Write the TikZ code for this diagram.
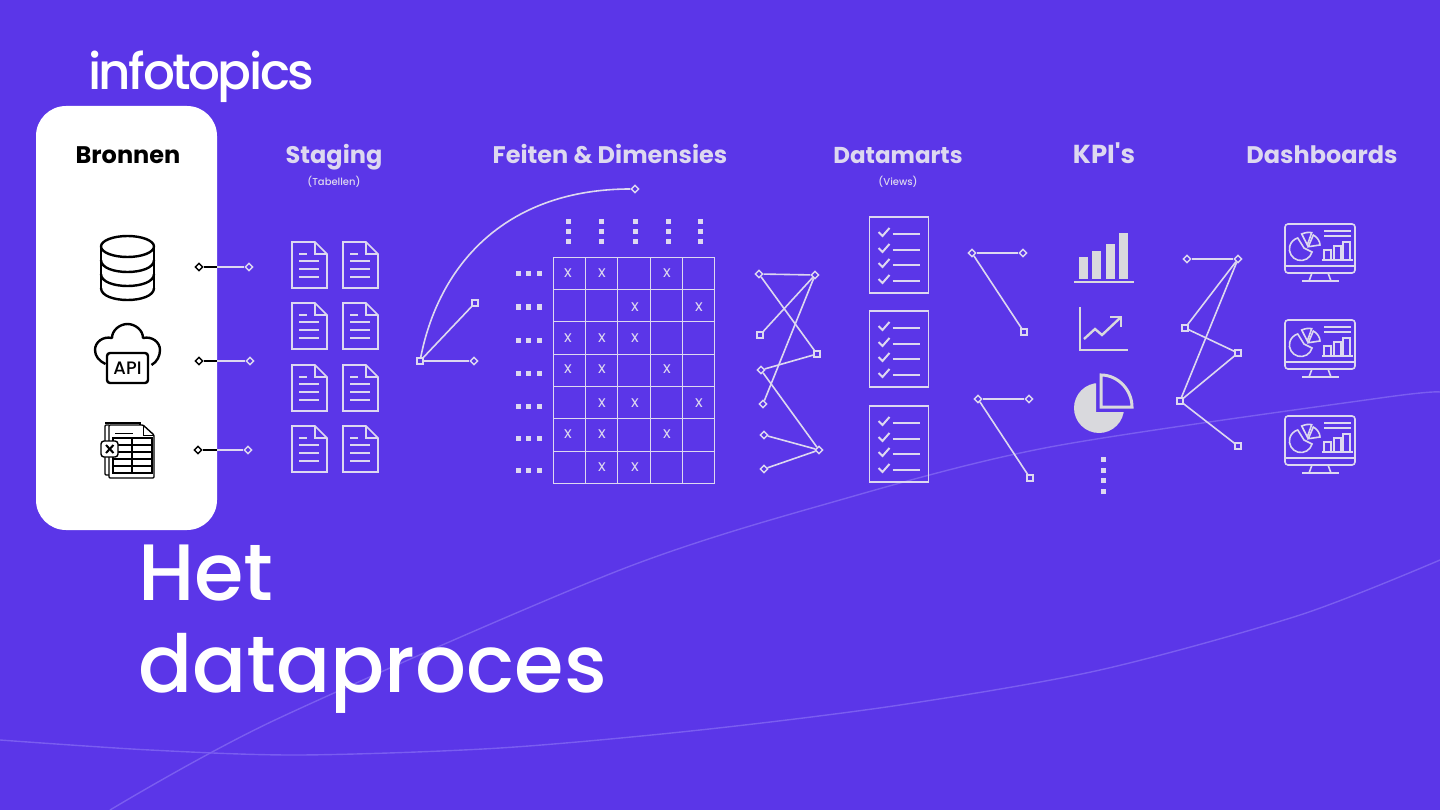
\documentclass[tikz,border=0pt]{standalone}
\usepackage{fontspec}
\setmainfont{Poppins}
\newfontfamily\mediumfont[Ligatures=TeX]{Poppins Medium}
\newfontfamily\straightfont{Poppins}
\usepackage{xcolor}
\usetikzlibrary{arrows.meta,positioning,calc,shapes.geometric}
\definecolor{bgpurple}{HTML}{5B36E8}
\definecolor{lightline}{HTML}{DDD8F0}
\definecolor{faintline}{HTML}{7A5DF0}
\definecolor{kpigray}{HTML}{D9D9DD}

\tikzset{
  dmnd/.style={diamond, draw=lightline, fill=bgpurple, line width=1.4pt,
               inner sep=0pt, minimum size=8pt},
  sqr/.style={rectangle, draw=lightline, fill=bgpurple, line width=1.4pt,
              inner sep=0pt, minimum size=6pt},
  dmndblack/.style={dmnd, draw=black, fill=white},
  link/.style={draw=lightline, line width=1.6pt},
  icon/.style={draw=lightline, line width=1.6pt},
  blackicon/.style={draw=black, line width=2.4pt, line join=round},
  heading/.style={font=\fontsize{24}{28}\selectfont\bfseries, text=lightline,
                  inner sep=0pt, anchor=base},
  subhead/.style={font=\mediumfont\fontsize{10}{12}\selectfont, text=lightline, inner sep=0pt, anchor=base},
  xmark/.style={font=\fontsize{16}{18}\selectfont, text=lightline, inner sep=0pt},
  title/.style={font=\mediumfont\fontsize{80}{90}\selectfont, text=white, inner sep=0pt, anchor=base west},
  docicon/.pic={
    \draw[icon] (0,0) -- (23,0) -- (35,12) -- (35,46) -- (0,46) -- cycle;
    \draw[icon] (23,0) -- (23,12) -- (35,12);
    \draw[icon] (7,12) -- (15,12);
    \foreach \ly in {19,27,35} \draw[icon] (7,\ly) -- (27,\ly);
  },
  checkicon/.pic={
    \draw[icon, line width=1.9pt] (0,0) rectangle (59,76);
    \foreach \ly in {15,31,46,62} {
      \draw[icon, line width=2pt] (9,\ly) -- (13,\ly+4) -- (20,\ly-4);
      \draw[icon, line width=1.8pt] (23,\ly+2) -- (50,\ly+2);
    }
  },
  screenicon/.pic={
    \draw[icon, rounded corners=3pt] (0,0) rectangle (70,49);
    \draw[icon] (0,42) -- (70,42);
    \draw[icon] (27,49) -- (24,57);
    \draw[icon] (43,49) -- (46,57);
    \draw[icon] (17,57) -- (54,57);
    % pie
    \draw[icon] (27,28) arc[start angle=15, end angle=254, radius=11.5] -- (19,24) -- cycle;
    \draw[icon] (16.7,10) .. controls (20,8.5) and (24,8) .. (26.7,8.7) -- (22.3,21) -- cycle;
    \draw[icon] (28.3,11) .. controls (32,13) and (35,17) .. (35,21) -- (23.3,22.7) -- cycle;
    % text and bars
    \draw[icon] (39,7) -- (66,7);
    \draw[icon] (39,12) -- (66,12);
    \draw[icon] (39,36) rectangle (46,26);
    \draw[icon] (49,36) rectangle (56,22);
    \draw[icon] (58,36) rectangle (65,18);
    \draw[icon] (37,36) -- (68,36);
  }
}

\begin{document}
\begin{tikzpicture}[x=1pt, y=-1pt]

\useasboundingbox (0,0) rectangle (1440,810);
\fill[bgpurple] (0,0) rectangle (1440,810);

%─── Background curves ────────────────────────────────────────────────
\draw[faintline, line width=1.4pt] plot[smooth] coordinates
  {(110,810) (275,720) (620,570) (840,500) (1050,447) (1380,398) (1440,392)};
\draw[faintline, line width=1.4pt] plot[smooth] coordinates
  {(0,740) (150,750) (300,755) (500,748) (700,730) (900,705) (1100,670) (1300,615) (1440,560)};

%─── Logo and title ───────────────────────────────────────────────────
\node[font=\mediumfont\fontsize{50}{54}\selectfont\addfontfeatures{LetterSpace=-5}, text=white, inner sep=0pt, anchor=base west]
  (logo) at (88,90) {infotopics};
\node[title] (titleone) at (138,600) {Het};
\node[title] (titletwo) at (138,692) {dataproces};

%─── Bronnen panel ────────────────────────────────────────────────────
\fill[white, rounded corners=30pt] (36,106) rectangle (217,530);
\node[heading, text=black] (bronnen) at (128,163.5) {Bronnen};
\node[heading] (staging) at (334,163.5) {Staging};
\node[subhead] (tabellen) at (334,186) {(Tabellen)};
\node[heading] (feiten) at (610,163.5) {Feiten \& Dimensies};
\node[heading, font=\fontsize{23}{28}\selectfont\bfseries] (datamarts) at (898,163.5) {Datamarts};
\node[subhead] (views) at (898,186) {(Views)};
\node[heading, font=\fontsize{26}{28}\selectfont\bfseries] (kpis) at (1104,163.5) {\straightfont KPI's};
\node[heading] (dashboards) at (1322,163.5) {Dashboards};

% database
\draw[blackicon] (127.5,246.5) ellipse (26.5 and 10.5);
\draw[blackicon] (101,246.5) -- (101,288);
\draw[blackicon] (154,246.5) -- (154,288);
\foreach \ly in {260,274,288}
  \draw[blackicon] (101,\ly) .. controls (101,\ly+16) and (154,\ly+16) .. (154,\ly);

% cloud with API
\draw[blackicon] (105.5,364) .. controls (99,361) and (95,356) .. (95,350)
  .. controls (95,342) and (103,336) .. (112,338)
  .. controls (112,330) and (120,324) .. (127.5,324)
  .. controls (135,324) and (143,330) .. (143,338)
  .. controls (152,336) and (160,342) .. (160,350)
  .. controls (160,356) and (157,362) .. (151.5,365);
\draw[blackicon, rounded corners=3pt] (107,353) rectangle (148,383);
\node[font=\mediumfont\fontsize{18}{20}\selectfont, text=black, inner sep=0pt] (api) at (127.5,368.5) {API};

% spreadsheet
\draw[black, line width=1.2pt, rounded corners=1pt] (109,425) -- (105,425) -- (105,475) -- (109,475);
\draw[black, line width=1.2pt] (105,423) -- (140,423) -- (140,425);
\draw[black, line width=1.4pt, rounded corners=1pt] (109,425) -- (143,425) -- (154,435) -- (154,478) -- (109,478) -- cycle;
\draw[black, line width=1pt] (143,425) -- (143,435) -- (154,435);
\draw[black, line width=1pt] (115,433) -- (133,433);
\draw[black, line width=1.4pt] (113,438) rectangle (152,473);
\draw[black, line width=1.4pt] (132,438) -- (132,473);
\foreach \ly in {445,452,459,466} \draw[black, line width=1.4pt] (113,\ly) -- (152,\ly);
\draw[black, fill=white, line width=1.4pt, rounded corners=3pt] (101,441) rectangle (118,457);
\draw[black, line width=2pt] (106,445) -- (113.5,453);
\draw[black, line width=2pt] (113.5,445) -- (106,453);

% connectors out of the panel
\foreach \n/\xa/\xb/\ly in {1/199/249/267, 2/199/250/361, 3/198/248/450} {
  \node[dmndblack] (srcleft\n) at (\xa,\ly) {};
  \node[dmnd] (srcright\n) at (\xb,\ly) {};
  \coordinate (srcedge\n) at (217,\ly);
  \draw[black, line width=1.6pt] (srcleft\n) -- (srcedge\n);
  \draw[link] (srcedge\n) -- (srcright\n);
}

%─── Staging ──────────────────────────────────────────────────────────
\foreach \ly in {242,303,365,426} {
  \pic at (292,\ly) {docicon};
  \pic at (343,\ly) {docicon};
}

% fan towards the facts
\node[sqr] (fanroot) at (420,361) {};
\node[dmnd] (fanlow) at (474,361) {};
\node[sqr] (fanmid) at (475,303) {};
\node[dmnd] (fantop) at (635,189) {};
\draw[link] (fanroot) -- (fanlow);
\draw[link] (fanroot) -- (fanmid);
\draw[link] (fanroot) .. controls (440,260) and (510,189) .. (fantop);

%─── Feiten & Dimensies ───────────────────────────────────────────────
\foreach \gx in {553.3,585.3,617.3,650.3,682.3,714.7}
  \draw[lightline, line width=.9pt] (\gx,257.3) -- (\gx,483.3);
\foreach \gy in {257.3,289.3,321.3,354.3,386.7,418.3,451.7,483.3}
  \draw[lightline, line width=.9pt] (553.3,\gy) -- (714.7,\gy);

\foreach \gx/\gy [count=\k] in {568/273, 602/273, 667/273,
    635/307, 699/307,
    568/338, 602/338, 635/338,
    568/369, 602/369, 667/369,
    602/403, 635/403, 699/403,
    568/434, 602/434, 667/434,
    602/467, 635/467}
  \node[xmark] (cell\k) at (\gx,\gy) {x};

\foreach \gx in {568,601,635,668,700}
  \foreach \gy in {222,232,242}
    \fill[lightline] (\gx-2.5,\gy-2.5) rectangle (\gx+2.5,\gy+2.5);
\foreach \gy in {273.5,307,340.5,373.5,406,438.5,470.5}
  \foreach \gx in {518,528,539}
    \fill[lightline] (\gx-2.5,\gy-2.5) rectangle (\gx+2.5,\gy+2.5);

% links towards the datamarts
\node[dmnd] (martA) at (759,274) {};
\node[dmnd] (martB) at (815,275) {};
\node[sqr]  (martC) at (760,335) {};
\node[sqr]  (martD) at (817,354) {};
\node[dmnd] (martE) at (761,370) {};
\node[dmnd] (martF) at (763,404) {};
\node[dmnd] (martG) at (764,435) {};
\node[dmnd] (martH) at (819,450) {};
\node[dmnd] (martI) at (764,469) {};
\draw[link] (martA) -- (martB);
\draw[link] (martA) -- (martD);
\draw[link] (martB) -- (martC);
\draw[link] (martB) -- (martF);
\draw[link] (martD) -- (martE);
\draw[link] (martE) -- (martH);
\draw[link] (martG) -- (martH);
\draw[link] (martI) -- (martH);

%─── Datamarts ────────────────────────────────────────────────────────
\foreach \ly in {217,311,406}
  \pic at (869.5,\ly) {checkicon};

% links towards the KPI's
\node[dmnd] (kpiA) at (972,253) {};
\node[dmnd] (kpiB) at (1023,253) {};
\node[sqr]  (kpiC) at (1024,332) {};
\node[dmnd] (kpiD) at (978,399) {};
\node[dmnd] (kpiE) at (1029,399) {};
\node[sqr]  (kpiF) at (1030,478) {};
\draw[link] (kpiA) -- (kpiB);
\draw[link] (kpiA) -- (kpiC);
\draw[link] (kpiD) -- (kpiE);
\draw[link] (kpiD) -- (kpiF);

%─── KPI's ────────────────────────────────────────────────────────────
% bars
\fill[kpigray] (1079,279) rectangle (1088,257);
\fill[kpigray] (1092,279) rectangle (1101,251);
\fill[kpigray] (1106,279) rectangle (1115,244);
\fill[kpigray] (1119,279) rectangle (1128,233);
\draw[kpigray, line width=2pt] (1074,282) -- (1134,282);

% line chart
\draw[kpigray, line width=2.2pt] (1080,307) -- (1080,350) -- (1128,350);
\draw[kpigray, line width=2.4pt] (1084,339) -- (1095,329) -- (1102,335) -- (1120,318);
\draw[kpigray, line width=2.4pt] (1110,317) -- (1121,317) -- (1121,327);

% pie
\begin{scope}
  \clip (1070,376) -- (1096,376) -- (1096,412) -- (1130,412) -- (1130,440) -- (1070,440) -- cycle;
  \fill[kpigray] (1099,408) circle (25);
\end{scope}
\draw[kpigray, line width=3pt] (1101,375) -- (1101,407) -- (1132,407)
  .. controls (1132,390) and (1118,375) .. (1101,375) -- cycle;

\foreach \ly in {459.5,470,480,491}
  \fill[lightline] (1100.5,\ly-2.5) rectangle (1105.5,\ly+2.5);

% links towards the dashboards
\node[dmnd] (dashA) at (1187,259) {};
\node[dmnd] (dashB) at (1238,259) {};
\node[sqr]  (dashC) at (1185,328) {};
\node[sqr]  (dashD) at (1238,353) {};
\node[sqr]  (dashE) at (1180,401) {};
\node[sqr]  (dashF) at (1238,446) {};
\draw[link] (dashA) -- (dashB);
\draw[link] (dashB) -- (dashC);
\draw[link] (dashC) -- (dashD);
\draw[link] (dashD) -- (dashE);
\draw[link] (dashB) -- (dashE);
\draw[link] (dashE) -- (dashF);

%─── Dashboards ───────────────────────────────────────────────────────
\foreach \ly in {224,320,416}
  \pic at (1285,\ly) {screenicon};

\end{tikzpicture}
\end{document}
